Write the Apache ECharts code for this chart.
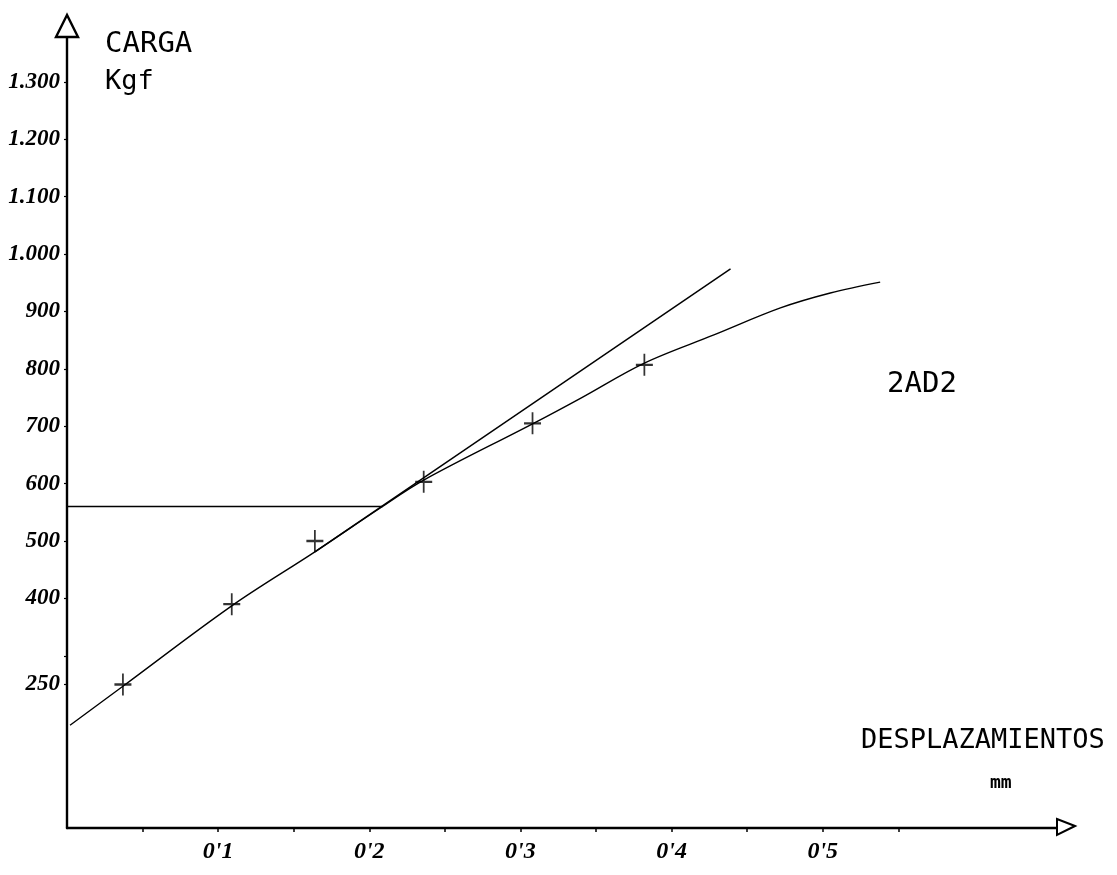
<!DOCTYPE html>
<html>
<head>
<meta charset="utf-8">
<script src="https://cdn.jsdelivr.net/npm/echarts@6/dist/echarts.min.js"></script>
<style>
  html, body { margin: 0; padding: 0; background: #fff; }
  #chart { width: 1117px; height: 875px; }
</style>
</head>
<body>
<div id="chart"></div>
<script>
// Load–displacement test, specimen 2AD2 (load in kgf, displacement in mm)
const testPoints = [[0.037, 250], [0.109, 390], [0.164, 500], [0.236, 603], [0.308, 705], [0.382, 807]];
const loadCurve = [[0.002, 179], [0.037, 247], [0.109, 387], [0.164, 481], [0.207, 557], [0.236, 606],
                   [0.308, 704], [0.340, 749], [0.382, 810], [0.428, 859], [0.472, 906], [0.505, 932], [0.538, 951]];
const tangentLine = [[0.164, 481], [0.439, 974]];
const yieldLevel = [[0, 560], [0.209, 560]];

const xLabelValues = [0.1, 0.2, 0.3, 0.4, 0.5];
const xTickValues = [0.05, 0.1, 0.15, 0.2, 0.25, 0.3, 0.35, 0.4, 0.45, 0.5, 0.55];
const yLabelValues = [250, 400, 500, 600, 700, 800, 900, 1000, 1100, 1200, 1300];
const yTickValues = [250, 300, 400, 500, 600, 700, 800, 900, 1000, 1100, 1200, 1300];

const X_MAX = 0.655;
const Y_MAX = 1378;

const hand = { fontFamily: 'Liberation Serif', fontStyle: 'italic', fontWeight: 'bold', fontSize: 23, color: '#000' };
const plotter = { fontFamily: 'DejaVu Sans Mono', color: '#111' };

// thousands separator with a dot, decimals with an apostrophe
const fmtLoad = v => v >= 1000 ? Math.floor(v / 1000) + '.' + String(v % 1000).padStart(3, '0') : String(v);
const fmtDisp = v => "0'" + Math.round(v * 10);

const chart = echarts.init(document.getElementById('chart'));

chart.setOption({
  backgroundColor: '#fff',
  animation: false,
  grid: { left: 67, right: 1117 - 1057, top: 37, bottom: 875 - 828, containLabel: false },
  xAxis: {
    type: 'value', min: 0, max: X_MAX,
    splitLine: { show: false },
    axisLine: { show: true, onZero: false, lineStyle: { color: '#000', width: 2.4 } },
    axisTick: { show: true, customValues: xTickValues, length: 4, lineStyle: { color: '#000', width: 1.5 } },
    axisLabel: { customValues: xLabelValues, formatter: fmtDisp, margin: 12, ...hand, fontSize: 24 }
  },
  yAxis: {
    type: 'value', min: 0, max: Y_MAX,
    splitLine: { show: false },
    axisLine: { show: true, onZero: false, lineStyle: { color: '#000', width: 2.4 } },
    axisTick: { show: true, customValues: yTickValues, length: 3, lineStyle: { color: '#000', width: 1.2 } },
    axisLabel: { customValues: yLabelValues, formatter: fmtLoad, margin: 7, ...hand }
  },
  series: [
    {
      name: 'yield', type: 'line', data: yieldLevel, symbol: 'none',
      lineStyle: { color: '#000', width: 1.4 }
    },
    {
      name: 'tangent', type: 'line', data: tangentLine, symbol: 'none',
      lineStyle: { color: '#000', width: 1.5 }
    },
    {
      name: 'curve', type: 'line', data: loadCurve, symbol: 'none', smooth: 0.35,
      lineStyle: { color: '#000', width: 1.4 }
    },
    {
      name: 'points', type: 'scatter', data: testPoints,
      symbol: 'path://M10,0 L10,22 M0,11 L20,11',
      symbolSize: [17, 22],
      itemStyle: { color: 'none', borderColor: '#000', borderWidth: 2 },
      z: 5
    }
  ]
});

// open arrowheads at the ends of both axes
const yEnd = chart.convertToPixel({ gridIndex: 0 }, [0, Y_MAX]);
const xEnd = chart.convertToPixel({ gridIndex: 0 }, [X_MAX, 0]);

chart.setOption({
  graphic: [
    {
      type: 'polygon', z: 10,
      shape: { points: [[yEnd[0], yEnd[1] - 22], [yEnd[0] - 11, yEnd[1]], [yEnd[0] + 11, yEnd[1]]] },
      style: { fill: '#fff', stroke: '#000', lineWidth: 2.4 }
    },
    {
      type: 'polygon', z: 10,
      shape: { points: [[xEnd[0] + 18, xEnd[1] - 2], [xEnd[0], xEnd[1] - 9], [xEnd[0], xEnd[1] + 7]] },
      style: { fill: '#fff', stroke: '#000', lineWidth: 2 }
    },
    { type: 'text', left: 105, top: 30, style: { text: 'CARGA', fontSize: 29, ...plotter } },
    { type: 'text', left: 105, top: 68, style: { text: 'Kgf', fontSize: 27, ...plotter } },
    { type: 'text', left: 861, top: 727, style: { text: 'DESPLAZAMIENTOS', fontSize: 27, ...plotter } },
    { type: 'text', left: 990, top: 774, style: { text: 'mm', fontSize: 18, fontWeight: 'bold', ...plotter } },
    { type: 'text', left: 887, top: 370, style: { text: '2AD2', fontSize: 29, ...plotter } }
  ]
});
</script>
</body>
</html>
